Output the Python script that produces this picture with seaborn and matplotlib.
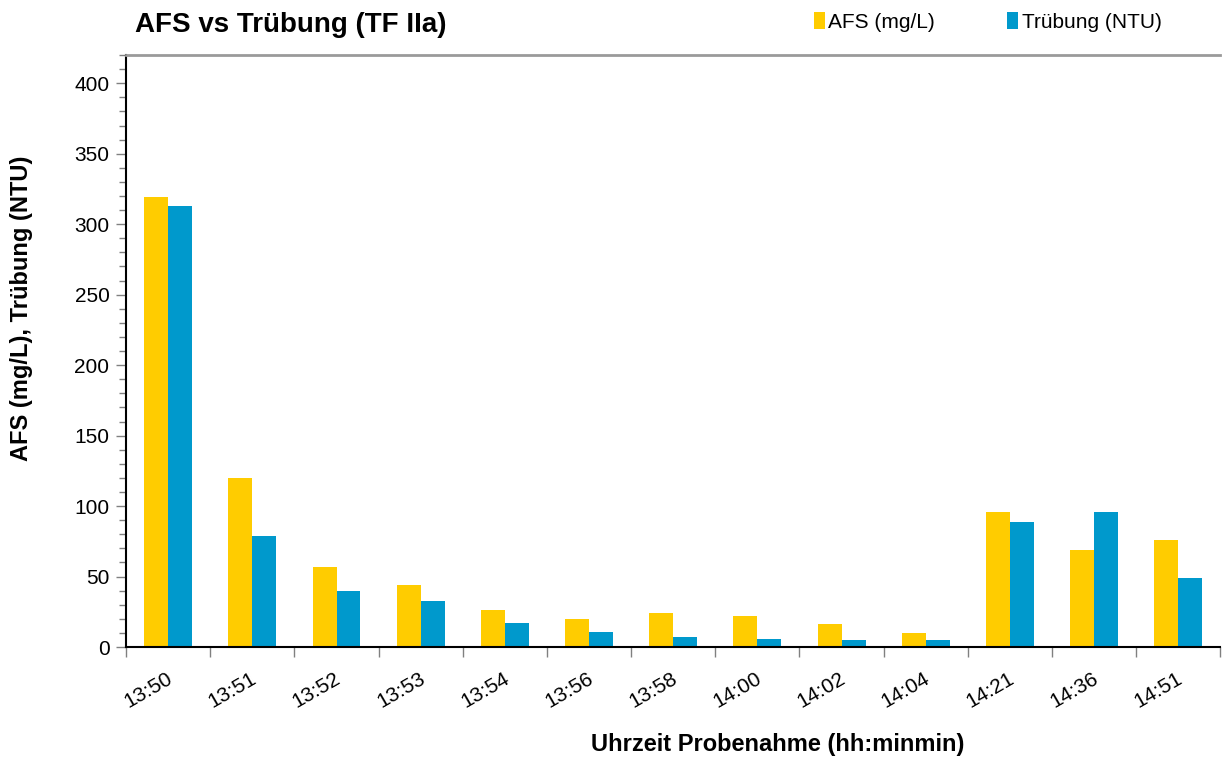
import matplotlib
matplotlib.use("Agg")
import matplotlib.pyplot as plt
import seaborn as sns
import pandas as pd
import numpy as np
from matplotlib.ticker import MultipleLocator, FixedLocator
from matplotlib.patches import Patch

categories = ["13:50", "13:51", "13:52", "13:53", "13:54", "13:56", "13:58",
              "14:00", "14:02", "14:04", "14:21", "14:36", "14:51"]
afs = [319, 120, 57, 44, 26, 20, 24, 22, 16, 10, 96, 69, 76]
truebung = [313, 79, 40, 33, 17, 11, 7, 6, 5, 5, 89, 96, 49]
series_names = ["AFS (mg/L)", "Trübung (NTU)"]
colors = ["#FFCC00", "#0099CC"]

df = pd.DataFrame({
    "Zeit": categories * 2,
    "Wert": afs + truebung,
    "Serie": [series_names[0]] * len(categories) + [series_names[1]] * len(categories),
})

sns.set_style("white")
plt.rcParams['font.family'] = ['Liberation Sans', 'DejaVu Sans']
plt.rcParams['text.color'] = 'black'
plt.rcParams['xtick.color'] = 'black'
plt.rcParams['ytick.color'] = 'black'

fig = plt.figure(figsize=(12.24, 7.58), dpi=100)
ax = fig.add_axes([0.103, 0.1464, 0.894, 0.781])

sns.barplot(data=df, x="Zeit", y="Wert", hue="Serie", order=categories,
            hue_order=series_names, palette=colors, width=0.57, dodge=True,
            saturation=1, ax=ax, legend=False, linewidth=0)

ax.set_xlim(-0.5, len(categories) - 0.5)
ax.set_ylim(0, 420)
ax.set_xlabel("")
ax.set_ylabel("")

# y ticks
ax.yaxis.set_major_locator(FixedLocator([0, 50, 100, 150, 200, 250, 300, 350, 400]))
ax.yaxis.set_minor_locator(MultipleLocator(10))
ax.tick_params(axis="y", which="major", length=7, width=1, color="#808080",
               labelsize=15, labelcolor="black", pad=5, left=True)
ax.tick_params(axis="y", which="minor", length=5, width=1, color="#808080", left=True)

# x ticks: labels at centers, tick marks at boundaries
ax.set_xticks(range(len(categories)))
ax.set_xticklabels(categories, rotation=30, ha="right", rotation_mode="anchor")
ax.xaxis.set_minor_locator(FixedLocator(np.arange(-0.5, len(categories), 1.0)))
ax.tick_params(axis="x", which="major", length=0, labelsize=15, labelcolor="black",
               pad=16, bottom=True)
ax.tick_params(axis="x", which="minor", length=7, width=1, color="#808080", bottom=True)
for lbl in ax.get_xticklabels():
    lbl.set_transform(lbl.get_transform() + matplotlib.transforms.ScaledTranslation(-0.02, 0, fig.dpi_scale_trans))

for s in ["left", "bottom"]:
    ax.spines[s].set_color("black")
    ax.spines[s].set_linewidth(1.5)
ax.spines["right"].set_visible(False)
ax.spines["top"].set_color("#9a9a9a")
ax.spines["top"].set_linewidth(2)

# Title
fig.text(135 / 1224, 1 - 25 / 758, "AFS vs Trübung (TF IIa)", fontsize=20,
         fontweight="bold", ha="left", va="center", color="black")

# Axis labels
fig.text(22 / 1224, 1 - 308 / 758, "AFS (mg/L), Trübung (NTU)", fontsize=17,
         fontweight="bold", rotation=90, ha="center", va="center", color="black")
fig.text(778 / 1224, 1 - 745 / 758, "Uhrzeit Probenahme (hh:minmin)", fontsize=17,
         fontweight="bold", ha="center", va="center", color="black")

# Legend
handles = [Patch(facecolor=c, edgecolor="none") for c in colors]
leg = fig.legend(handles, series_names, loc="center left",
                 bbox_to_anchor=(795 / 1224, 1 - 22 / 758), ncol=2, frameon=False,
                 fontsize=15, handlelength=0.55, handleheight=0.85, handletextpad=0.15,
                 columnspacing=3.45)

fig.savefig("out.png", dpi=100)
